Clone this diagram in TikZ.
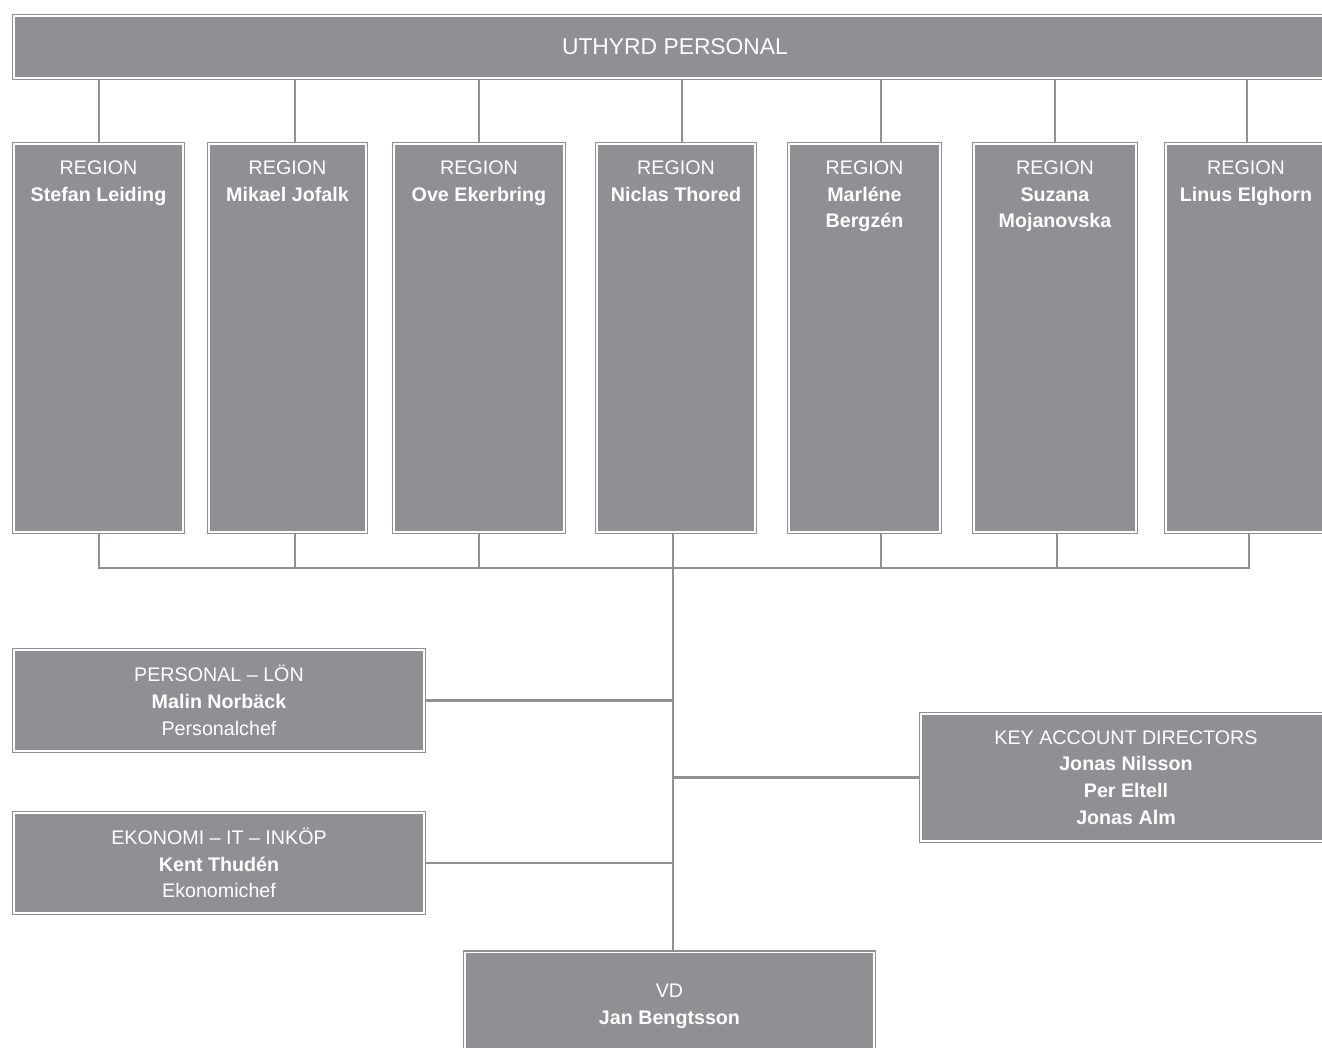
\documentclass[tikz,border=0pt]{standalone}
\usepackage{fontspec}
\setmainfont{Liberation Sans}
\usepackage{xcolor}
\definecolor{boxgray}{RGB}{142,144,148}
\usetikzlibrary{positioning,backgrounds}
\tikzset{
    box/.style = {draw=boxgray, double=white, double distance=1.1pt, line width=0.6pt,
        fill=boxgray, inner sep=0pt, text=white, align=center,
        font=\fontsize{11.2}{15.2}\selectfont},
    regbox/.style = {box, minimum width=#1*0.02cm, minimum height=388*0.02cm},
    widebox/.style = {box, minimum width=410*0.02cm, minimum height=#1*0.02cm},
    boxtext/.style = {inner sep=0pt, text=white, align=center,
        font=\fontsize{11.2}{15.2}\selectfont},
    link/.style = {draw=boxgray, line width=1.35pt}
}

\begin{document}
\begin{tikzpicture}[x=0.02cm, y=-0.02cm]
\useasboundingbox (0,0) rectangle (1322,1048);
\clip (0,0) rectangle (1322,1048);

% top bar
\node[box, minimum width=1322*0.02cm, minimum height=62*0.02cm, font=\fontsize{13}{15}\selectfont] (uthyrd) at (675,47) {UTHYRD PERSONAL};

% regions
\node[regbox=169] (r1) at (98.5,338) {};
\node[regbox=157] (r2) at (287.5,338) {};
\node[regbox=170] (r3) at (479,338) {};
\node[regbox=158] (r4) at (676,338) {};
\node[regbox=151] (r5) at (864.5,338) {};
\node[regbox=162] (r6) at (1055,338) {};
\node[regbox=160] (r7) at (1246,338) {};

\node[boxtext, below=0.34cm of r1.north] (r1t) {REGION\\\textbf{Stefan Leiding}};
\node[boxtext, below=0.34cm of r2.north] (r2t) {REGION\\\textbf{Mikael Jofalk}};
\node[boxtext, below=0.34cm of r3.north] (r3t) {REGION\\\textbf{Ove Ekerbring}};
\node[boxtext, below=0.34cm of r4.north] (r4t) {REGION\\\textbf{Niclas Thored}};
\node[boxtext, below=0.34cm of r5.north] (r5t) {REGION\\\textbf{Marléne}\\\textbf{Bergzén}};
\node[boxtext, below=0.34cm of r6.north] (r6t) {REGION\\\textbf{Suzana}\\\textbf{Mojanovska}};
\node[boxtext, below=0.34cm of r7.north] (r7t) {REGION\\\textbf{Linus Elghorn}};

% staff
\node[widebox=101] (personal) at (219,700.5) {PERSONAL -- LÖN\\\textbf{Malin Norbäck}\\Personalchef};
\node[widebox=100] (ekonomi) at (219,863) {EKONOMI -- IT -- INKÖP\\\textbf{Kent Thudén}\\Ekonomichef};
\node[widebox=127] (kad) at (1126,777.5) {KEY ACCOUNT DIRECTORS\\\textbf{Jonas Nilsson}\\\textbf{Per Eltell}\\\textbf{Jonas Alm}};
\node[box, minimum width=409*0.02cm, minimum height=107*0.02cm] (vd) at (669.5,1006) {VD\\\textbf{Jan Bengtsson}};

\coordinate (bus) at (673,568);

\begin{scope}[on background layer]
\draw[link] (uthyrd.south -| 99,0) -- (r1.north -| 99,0);
\draw[link] (uthyrd.south -| 295,0) -- (r2.north -| 295,0);
\draw[link] (uthyrd.south -| 479,0) -- (r3.north -| 479,0);
\draw[link] (uthyrd.south -| 682,0) -- (r4.north -| 682,0);
\draw[link] (uthyrd.south -| 881,0) -- (r5.north -| 881,0);
\draw[link] (uthyrd.south -| 1055,0) -- (r6.north -| 1055,0);
\draw[link] (uthyrd.south -| 1247,0) -- (r7.north -| 1247,0);

\draw[link] (r1.south -| 99,0) |- (bus) -| (r7.south -| 1249,0);
\draw[link] (r2.south -| 295,0) -- (bus -| 295,0);
\draw[link] (r3.south -| 479,0) -- (bus -| 479,0);
\draw[link] (r5.south -| 881,0) -- (bus -| 881,0);
\draw[link] (r6.south -| 1057,0) -- (bus -| 1057,0);

\draw[link] (r4.south -| bus) -- (vd.north -| bus);
\draw[link] (personal.east) -- (personal.east -| bus);
\draw[link] (ekonomi.east) -- (ekonomi.east -| bus);
\draw[link] (kad.west) -- (kad.west -| bus);
\end{scope}
\end{tikzpicture}
\end{document}
